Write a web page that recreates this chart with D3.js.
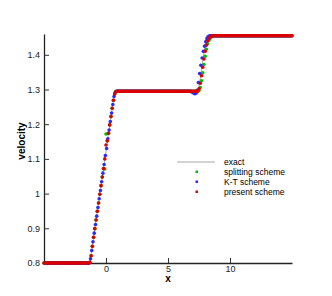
<!DOCTYPE html>
<html>
<head>
<meta charset="utf-8">
<script src="https://cdn.jsdelivr.net/npm/d3@7"></script>
<style>
  body { margin: 0; background: #fff; }
  text { font-family: "Liberation Sans", Arial, sans-serif; }
</style>
</head>
<body>
<svg id="chart" width="332" height="296"></svg>
<script>
// plateau levels of the velocity (left state, middle state, right state)
var levels = [0.8, 1.295, 1.455]

// exact solution, corner points
var exactX = [-5, -1.3, 0.7, 7.45, 8.1, 15]
var exactU = [0.8, 0.8, 1.295, 1.295, 1.455, 1.455]

// mesh: present + splitting on nodes from -5, K-T staggered by half a cell
var nodeStep = 0.1
var nodeStart = { present: -5, splitting: -5, kt: -4.95 }

// samples through the two transition zones, [x, u]
var presentFan1 = [[-1.4,0.800],[-1.3,0.802],[-1.2,0.821],[-1.1,0.848],[-1.0,0.874],[-0.9,0.899],
  [-0.8,0.924],[-0.7,0.949],[-0.6,0.973],[-0.5,0.998],[-0.4,1.023],[-0.3,1.048],[-0.2,1.072],
  [-0.1,1.100],[0.0,1.140],[0.1,1.152],[0.2,1.174],[0.3,1.198],[0.4,1.222],[0.5,1.246],
  [0.6,1.269],[0.7,1.287],[0.8,1.294]]
var presentFan2 = [[7.3,1.295],[7.4,1.296],[7.5,1.302],[7.6,1.318],[7.7,1.340],[7.8,1.364],
  [7.9,1.388],[8.0,1.410],[8.1,1.428],[8.2,1.440],[8.3,1.447],[8.4,1.451],[8.5,1.454],[8.6,1.455]]

var splitFan1 = [[-1.4,0.800],[-1.3,0.802],[-1.2,0.821],[-1.1,0.848],[-1.0,0.874],[-0.9,0.899],
  [-0.8,0.924],[-0.7,0.949],[-0.6,0.973],[-0.5,0.998],[-0.4,1.023],[-0.3,1.048],[-0.2,1.072],
  [-0.1,1.071],[0.0,1.172],[0.1,1.152],[0.2,1.174],[0.3,1.198],[0.4,1.222],[0.5,1.246],
  [0.6,1.269],[0.7,1.287],[0.8,1.294]]
var splitFan2 = [[7.3,1.295],[7.4,1.295],[7.5,1.297],[7.6,1.306],[7.7,1.325],[7.8,1.348],
  [7.9,1.372],[8.0,1.396],[8.1,1.416],[8.2,1.432],[8.3,1.442],[8.4,1.448],[8.5,1.452],
  [8.6,1.454],[8.7,1.455]]

var ktFan1 = [[-1.35,0.800],[-1.25,0.812],[-1.15,0.836],[-1.05,0.861],[-0.95,0.886],[-0.85,0.911],
  [-0.75,0.935],[-0.65,0.960],[-0.55,0.985],[-0.45,1.009],[-0.35,1.034],[-0.25,1.059],
  [-0.15,1.084],[-0.05,1.110],[0.05,1.130],[0.15,1.158],[0.25,1.183],[0.35,1.208],
  [0.45,1.232],[0.55,1.257],[0.65,1.280],[0.75,1.292],[0.85,1.295]]
var ktFan2 = [[6.85,1.295],[6.95,1.292],[7.05,1.290],[7.15,1.288],[7.25,1.289],[7.35,1.298],
  [7.45,1.320],[7.55,1.346],[7.65,1.370],[7.75,1.391],[7.85,1.410],[7.95,1.425],[8.05,1.438],
  [8.15,1.447],[8.25,1.452],[8.35,1.455]]

var legendLabels = ["exact", "splitting scheme", "K-T scheme", "present scheme"]
var xMajor = [0, 5, 10]
var yMajor = [0.8, 0.9, 1, 1.1, 1.2, 1.3, 1.4]

// full series on the mesh: fan samples where given, plateau level elsewhere
function buildSeries(x0, fan1, fan2) {
  var n = Math.floor((15 - x0) / nodeStep + 1e-6)
  var fans = fan1.concat(fan2)
  var pts = []
  for (var i = 0; i <= n; i++) {
    var x = +(x0 + i * nodeStep).toFixed(3)
    var hit = fans.find(function(p) { return Math.abs(p[0] - x) < 1e-6 })
    var u = hit ? hit[1]
      : x < fan1[0][0] ? levels[0]
      : x < fan2[0][0] ? levels[1]
      : levels[2]
    pts.push([x, u])
  }
  return pts
}

var series = [
  { name: "splitting", color: "#00c000", pts: buildSeries(nodeStart.splitting, splitFan1, splitFan2) },
  { name: "kt", color: "#2a2aff", pts: buildSeries(nodeStart.kt, ktFan1, ktFan2) },
  { name: "present", color: "#dd0000", pts: buildSeries(nodeStart.present, presentFan1, presentFan2) }
]

var svg = d3.select("#chart")

var x = d3.scaleLinear().domain([-5, 15]).range([44, 292])
var y = d3.scaleLinear().domain([0.8, 1.46]).range([263, 34])

// exact solution
svg.append("path")
  .datum(d3.zip(exactX, exactU))
  .attr("fill", "none")
  .attr("stroke", "#a8a8a8")
  .attr("stroke-width", 1)
  .attr("d", d3.line().x(function(d) { return x(d[0]) }).y(function(d) { return y(d[1]) }))

// axes
var minorX = d3.range(-5, 16, 1).filter(function(v) { return xMajor.indexOf(v) < 0 })
var minorY = d3.range(0, 34).map(function(i) { return +(0.8 + i * 0.02).toFixed(2) })
  .filter(function(v) { return v <= 1.46 && yMajor.indexOf(v) < 0 })

var gx = svg.append("g").attr("transform", "translate(0,263)")
gx.call(d3.axisBottom(x).tickValues(minorX).tickSize(-3).tickSizeOuter(0).tickFormat(""))
gx.call(d3.axisBottom(x).tickValues(xMajor).tickSize(-5).tickSizeOuter(0).tickPadding(3))

var gy = svg.append("g").attr("transform", "translate(44,0)")
gy.call(d3.axisLeft(y).tickValues(minorY).tickSize(-3).tickSizeOuter(0).tickFormat(""))
gy.call(d3.axisLeft(y).tickValues(yMajor).tickSize(-5).tickSizeOuter(0).tickPadding(4)
  .tickFormat(d3.format("")))

svg.selectAll(".domain").attr("stroke", "#222").attr("stroke-width", 1.3)
svg.selectAll(".tick line").attr("stroke", "#333")
svg.selectAll(".tick text").attr("font-size", 9).attr("fill", "#222")
  .style("font-family", "'Liberation Sans', Arial, sans-serif")

// scheme markers, present scheme on top
series.forEach(function(s) {
  svg.append("g").selectAll("circle")
    .data(s.pts).enter()
    .append("circle")
    .attr("cx", function(d) { return x(d[0]) })
    .attr("cy", function(d) { return y(d[1]) })
    .attr("r", 1.8)
    .attr("fill", s.color)
})

// axis titles
svg.append("text")
  .attr("x", 168).attr("y", 282)
  .attr("text-anchor", "middle")
  .attr("font-size", 10).attr("font-weight", "bold")
  .text("x")
svg.append("text")
  .attr("transform", "translate(25,141) rotate(-90)")
  .attr("text-anchor", "middle")
  .attr("font-size", 10).attr("font-weight", "bold")
  .text("velocity")

// legend
var lg = svg.append("g")
legendLabels.forEach(function(label, i) {
  var cy = 162 + i * 10
  if (i === 0) {
    lg.append("line").attr("x1", 177).attr("x2", 215).attr("y1", cy).attr("y2", cy)
      .attr("stroke", "#a8a8a8").attr("stroke-width", 1)
  } else {
    lg.append("rect").attr("x", 195.5).attr("y", cy - 1.5).attr("width", 2.5).attr("height", 2.5)
      .attr("fill", series[i - 1].color)
  }
  lg.append("text").attr("x", 224).attr("y", cy + 3)
    .attr("font-size", 8.5).attr("fill", "#000")
    .text(label)
})
</script>
</body>
</html>
